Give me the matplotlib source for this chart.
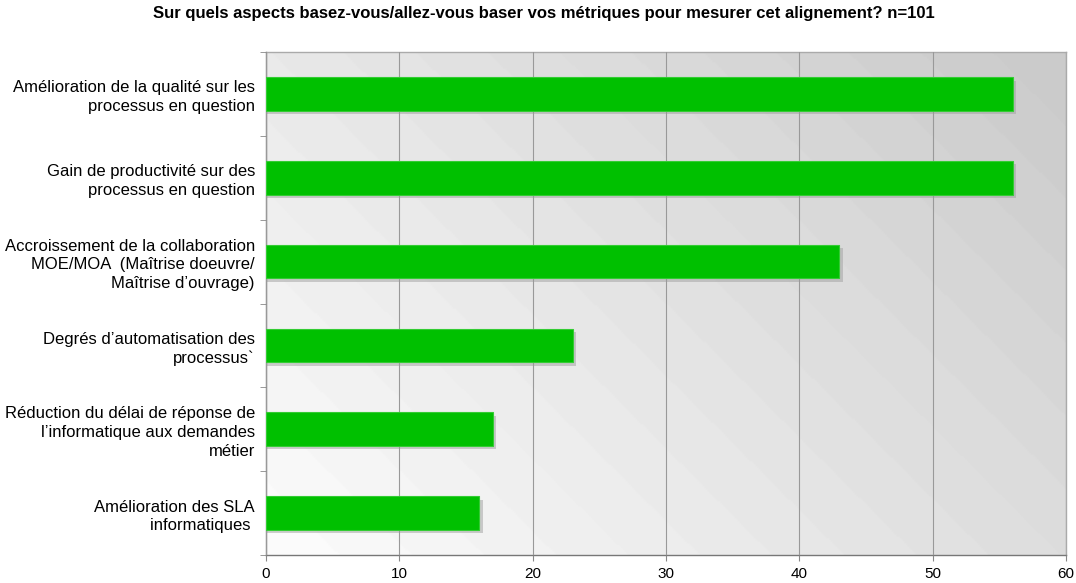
import matplotlib.pyplot as plt
import numpy as np

# data
categories = [
    "Amélioration de la qualité sur les\nprocessus en question",
    "Gain de productivité sur des\nprocessus en question",
    "Accroissement de la collaboration\nMOE/MOA  (Maîtrise doeuvre/\nMaîtrise d’ouvrage)",
    "Degrés d’automatisation des\nprocessus`",
    "Réduction du délai de réponse de\nl’informatique aux demandes\nmétier",
    "Amélioration des SLA\ninformatiques ",
]
values = [56, 56, 43, 23, 17, 16]
xticks = [0, 10, 20, 30, 40, 50, 60]
title = "Sur quels aspects basez-vous/allez-vous baser vos métriques pour mesurer cet alignement? n=101"

plt.rcParams["font.family"] = ["Liberation Sans", "DejaVu Sans"]

fig = plt.figure(figsize=(10.76, 5.83), dpi=100)
ax = fig.add_axes([266 / 1076, 28 / 583, 800 / 1076, 503 / 583])

n = len(categories)
y = np.arange(n)[::-1]

# diagonal banded gradient background, light bottom-left, grey top-right
gx, gy = np.meshgrid(np.linspace(0, 1, 500), np.linspace(0, 1, 300))
g = (gx * 0.8 + gy * 0.5) / 1.3
g = np.floor(g * 18) / 18
shade = 0.985 - 0.2 * g
bg = np.dstack([shade, shade, shade])
ax.imshow(bg, extent=[0, 60, -0.5, n - 0.5], origin="lower", aspect="auto",
          zorder=0, interpolation="bilinear")

# shadow then bars
ax.barh(y - 0.04, np.array(values) + 0.25, height=0.4, color="#a0a0a0",
        alpha=0.5, zorder=2, linewidth=0)
ax.barh(y, values, height=0.4, color="#00c000", edgecolor="#33cc33",
        linewidth=0.8, zorder=3)

ax.set_xlim(0, 60)
ax.set_ylim(-0.5, n - 0.5)
ax.set_xticks(xticks)
ax.grid(axis="x", color="#999999", linewidth=0.8, zorder=1)
ax.set_axisbelow(False)

ax.set_yticks(y)
ax.set_yticklabels(categories, fontsize=12, ha="right", linespacing=1.3)
ax.set_yticks(np.arange(n + 1) - 0.5, minor=True)
ax.tick_params(axis="y", which="major", length=0, pad=8)
ax.tick_params(axis="y", which="minor", length=4, color="#888888")
ax.tick_params(axis="x", length=4, color="#888888", labelsize=11, pad=5)

for s in ax.spines.values():
    s.set_color("#aaaaaa")
    s.set_linewidth(1)
ax.spines["left"].set_color("#777777")
ax.spines["bottom"].set_color("#777777")

fig.text(0.505, 0.99, title, ha="center", va="top", fontsize=12,
         fontweight="bold")

fig.savefig("out.png", dpi=100)
